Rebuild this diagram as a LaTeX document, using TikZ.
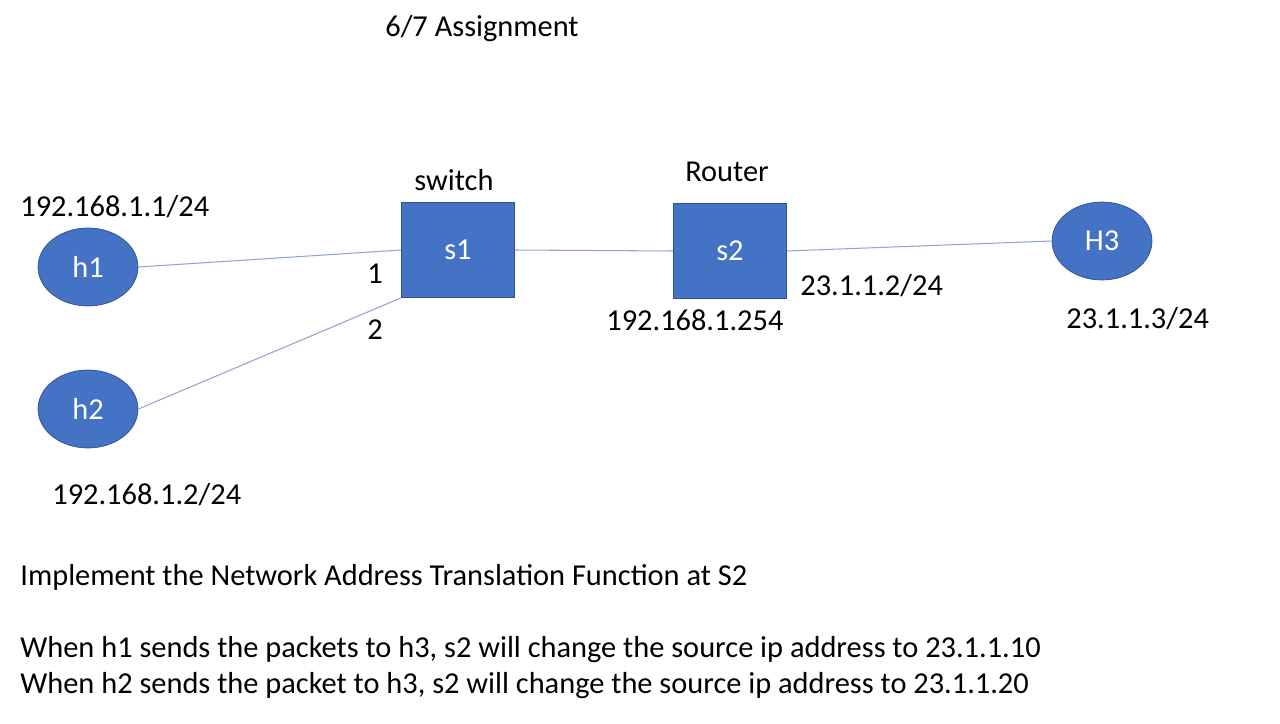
\documentclass[tikz,border=0pt]{standalone}
\usepackage{fontspec}
\setmainfont{Carlito}
\usetikzlibrary{shapes.geometric}
\definecolor{nodeblue}{HTML}{4472C4}
\definecolor{nodeedge}{HTML}{2F528F}
\definecolor{linkblue}{HTML}{8EA6D4}
\tikzset{
    host/.style={ellipse, draw=nodeedge, fill=nodeblue, text=white, minimum width=2cm, minimum height=1.56cm, inner sep=0pt},
    box/.style={rectangle, draw=nodeedge, fill=nodeblue, text=white, minimum width=2.26cm, minimum height=1.9cm, inner sep=0pt},
    lbl/.style={inner sep=0pt},
    link/.style={draw=linkblue, line width=0.6pt}
}
\begin{document}
\begin{tikzpicture}[x=0.02cm, y=-0.02cm, font=\fontsize{17.3}{20}\selectfont]
    \useasboundingbox (0,0) rectangle (1280,723);
    \fill[white] (0,0) rectangle (1280,723);

    \node[lbl] (title) at (482,29) {6/7 Assignment};

    \node[host] (h1) at (88,267) {h1};
    \node[host] (h2) at (88,409) {h2};
    \node[box]  (s1) at (458,250) {s1};
    \node[box]  (s2) at (730,251) {s2};
    \node[host] (h3) at (1102,241) {H3};

    \draw[link] (h1.east) -- (s1.west);
    \draw[link] (h2.east) -- (s1.south west);
    \draw[link] (s1.east) -- (s2.west);
    \draw[link] (s2.east) -- (h3.west);

    \node[lbl] (swlbl) at (454,180) {switch};
    \node[lbl] (rtlbl) at (727,172) {Router};
    \node[lbl] (port1) at (375,274) {1};
    \node[lbl] (port2) at (375,330) {2};

    \node[lbl, anchor=west] (iph1) at (20,207) {192.168.1.1/24};
    \node[lbl, anchor=west] (iph2) at (52,495) {192.168.1.2/24};
    \node[lbl, anchor=west] (ips2in) at (606,320) {192.168.1.254};
    \node[lbl, anchor=west] (ips2out) at (800,286) {23.1.1.2/24};
    \node[lbl, anchor=west] (iph3) at (1066,319) {23.1.1.3/24};

    \node[lbl, anchor=west] (task) at (20,577) {Implement the Network Address Translation Function at S2};
    \node[lbl, anchor=west] (rule1) at (20,650) {When h1 sends the packets to h3, s2 will change the source ip address to 23.1.1.10};
    \node[lbl, anchor=west] (rule2) at (20,686) {When h2 sends the packet to h3, s2 will change the source ip address to 23.1.1.20};
\end{tikzpicture}
\end{document}
